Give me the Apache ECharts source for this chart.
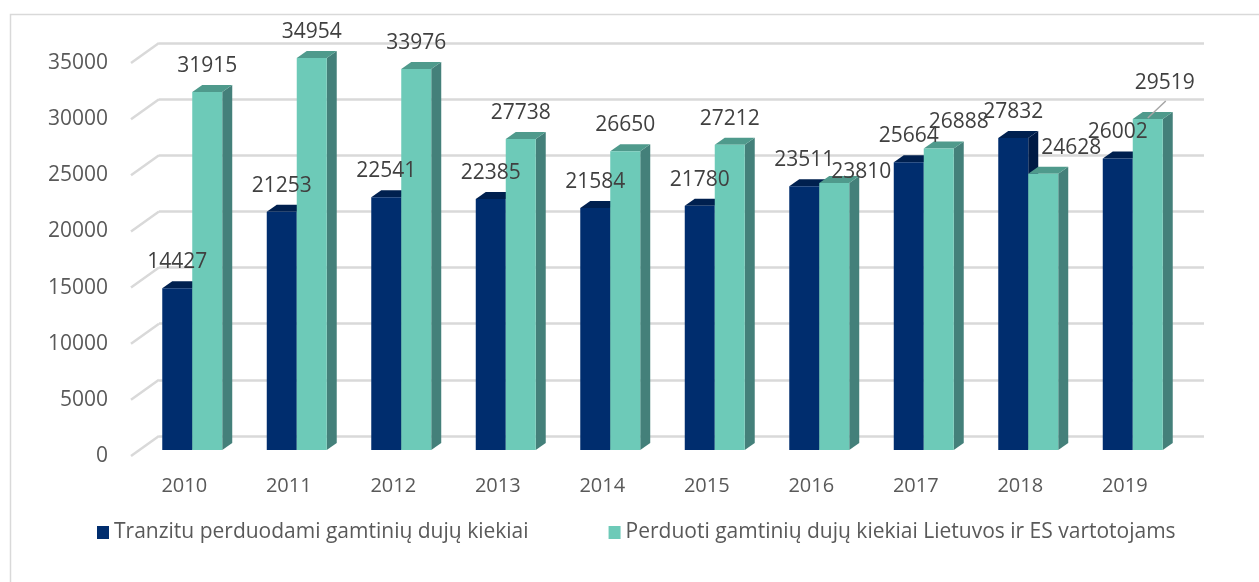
<!DOCTYPE html>
<html>
<head>
<meta charset="utf-8">
<script src="https://cdn.jsdelivr.net/npm/echarts@6/dist/echarts.min.js"></script>
<style>
html, body { margin: 0; padding: 0; background: #fff; }
#main { width: 1259px; height: 582px; }
</style>
</head>
<body>
<div id="main"></div>
<script>
// data
var years = ['2010', '2011', '2012', '2013', '2014', '2015', '2016', '2017', '2018', '2019'];
var transit = [14427, 21253, 22541, 22385, 21584, 21780, 23511, 25664, 27832, 26002];
var domestic = [31915, 34954, 33976, 27738, 26650, 27212, 23810, 26888, 24628, 29519];
var yTicks = [0, 5000, 10000, 15000, 20000, 25000, 30000, 35000];
var seriesNames = ['Tranzitu perduodami gamtinių dujų kiekiai', 'Perduoti gamtinių dujų kiekiai Lietuvos ir ES vartotojams'];

// labels that were pushed aside in the original (px)
var greenShift = {6: [27, 15], 7: [20, 0], 8: [28, 0], 9: [17, -10]};
var greenLeader = [9];

var blueCol = {front: '#002D6E', top: '#00204F', side: '#001A45'};
var greenCol = {front: '#6DCAB8', top: '#4F9A8C', side: '#44807A'};
var DX = 10, DY = 7, BAR = 0.287;

function pairs(arr) {
    return arr.map(function (v, i) { return [i, v]; });
}

//3D-ish bar: front, top, right side
function barItem(slot, c) {
    return function (params, api) {
        var i = api.value(0), v = api.value(1);
        var base = api.coord([i, 0]);
        var top = api.coord([i, v]);
        var w = api.size([1, 0])[0] * BAR;
        var x0 = base[0] - w + slot * w;
        var x1 = x0 + w;
        return {
            type: 'group',
            children: [
                {type: 'polygon', shape: {points: [[x1, top[1]], [x1 + DX, top[1] - DY], [x1 + DX, base[1] - DY], [x1, base[1]]]}, style: {fill: c.side}},
                {type: 'polygon', shape: {points: [[x0, top[1]], [x0 + DX, top[1] - DY], [x1 + DX, top[1] - DY], [x1, top[1]]]}, style: {fill: c.top}},
                {type: 'rect', shape: {x: x0, y: top[1], width: w, height: base[1] - top[1]}, style: {fill: c.front}}
            ]
        };
    };
}

function labelItem(slot, shift, leader) {
    return function (params, api) {
        var i = api.value(0), v = api.value(1);
        var base = api.coord([i, 0]);
        var top = api.coord([i, v]);
        var w = api.size([1, 0])[0] * BAR;
        var cx = base[0] - w + slot * w + w / 2;
        var s = shift[i] || [0, 0];
        var tx = cx + s[0], ty = top[1] - 26 + s[1];
        var kids = [{
            type: 'text',
            style: {text: String(v), x: tx, y: ty, align: 'center', verticalAlign: 'middle',
                    fontSize: 21, fontFamily: 'Open Sans', fill: '#404040'}
        }];
        if (leader.indexOf(i) >= 0) {
            kids.push({type: 'line', shape: {x1: tx + 1, y1: ty + 18, x2: cx, y2: top[1] - 1},
                       style: {stroke: '#A6A6A6', lineWidth: 1.5}});
        }
        return {type: 'group', children: kids};
    };
}

//slanted floor lines from the labels to the back wall
function slantItem(params, api) {
    var p = api.coord([0, api.value(0)]);
    var x = params.coordSys.x;
    return {type: 'line', shape: {x1: x - 28, y1: p[1] + 20, x2: x, y2: p[1]},
            style: {stroke: '#D9D9D9', lineWidth: 2.5}};
}

var chart = echarts.init(document.getElementById('main'));
var option = {
    animation: false,
    graphic: [{
        type: 'rect', left: 8, top: 12,
        shape: {width: 1300, height: 620},
        style: {fill: 'none', stroke: '#D9D9D9', lineWidth: 1.5}
    }],
    legend: {
        data: seriesNames,
        left: 97, top: 522, padding: 0,
        icon: 'rect', itemWidth: 12, itemHeight: 13, itemGap: 80,
        textStyle: {fontSize: 21, fontFamily: 'Open Sans', color: '#595959'}
    },
    grid: [
        {left: 140, width: 1045, top: 57.5, height: 392.5},  // bars
        {left: 159, width: 1045, top: 43, height: 393},      // back wall
        {left: 132, width: 1045, top: 63, height: 393}       // labels
    ],
    xAxis: [
        {type: 'category', gridIndex: 0, data: years, show: false},
        {type: 'category', gridIndex: 1, data: years, show: false},
        {type: 'category', gridIndex: 2, data: years,
         axisLine: {show: false}, axisTick: {show: false},
         axisLabel: {fontSize: 20, fontFamily: 'Open Sans', color: '#595959', margin: 20}}
    ],
    yAxis: [
        {type: 'value', gridIndex: 0, min: 0, max: 35000, interval: 5000, show: false},
        {type: 'value', gridIndex: 1, min: 0, max: 35000, interval: 5000,
         axisLine: {show: false}, axisTick: {show: false}, axisLabel: {show: false},
         splitLine: {lineStyle: {color: '#D9D9D9', width: 2.5}}},
        {type: 'value', gridIndex: 2, min: 0, max: 35000, interval: 5000,
         axisLine: {show: false}, axisTick: {show: false}, splitLine: {show: false},
         axisLabel: {fontSize: 21, fontFamily: 'Open Sans', color: '#595959', margin: 24,
                     formatter: function (v) { return String(v); }}}
    ],
    series: [
        {name: 'floor', type: 'custom', xAxisIndex: 1, yAxisIndex: 1, silent: true, z: 1,
         renderItem: slantItem, data: yTicks.map(function (t) { return [t]; }), encode: {y: 0}},
        {name: seriesNames[0], type: 'custom', silent: true, z: 2, itemStyle: {color: blueCol.front},
         renderItem: barItem(0, blueCol), data: pairs(transit)},
        {name: seriesNames[1], type: 'custom', silent: true, z: 3, itemStyle: {color: greenCol.front},
         renderItem: barItem(1, greenCol), data: pairs(domestic)},
        {name: 'lbl0', type: 'custom', silent: true, z: 5,
         renderItem: labelItem(0, {}, []), data: pairs(transit)},
        {name: 'lbl1', type: 'custom', silent: true, z: 6,
         renderItem: labelItem(1, greenShift, greenLeader), data: pairs(domestic)}
    ]
};
chart.setOption(option);
</script>
</body>
</html>
